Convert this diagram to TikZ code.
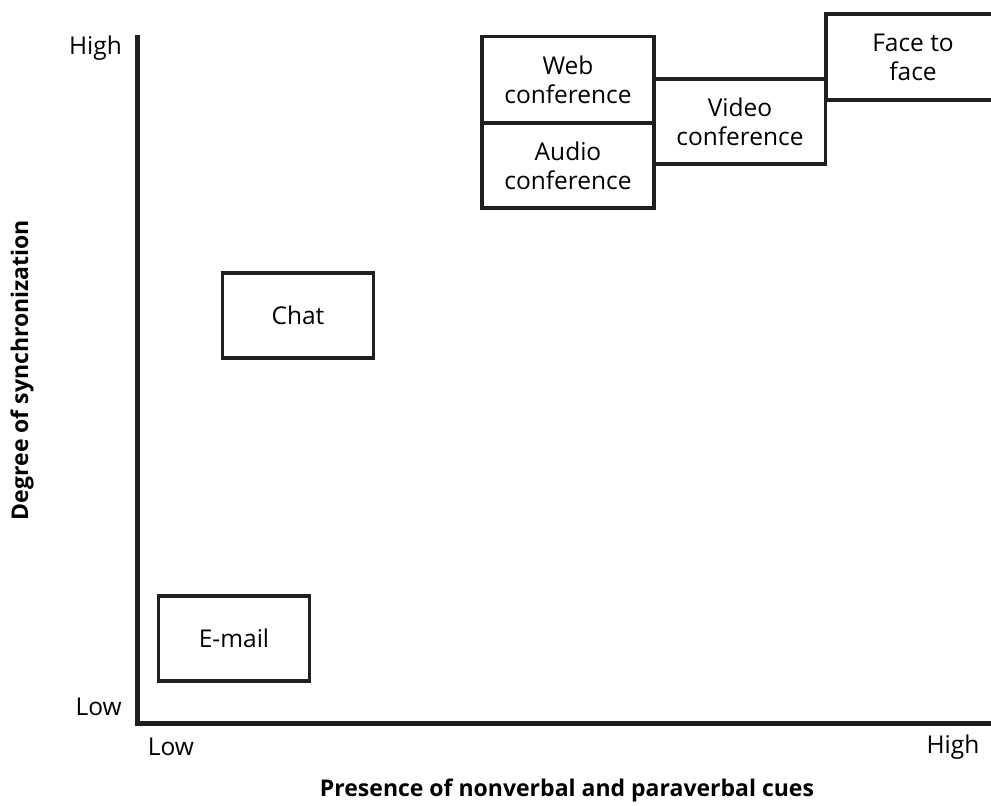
\documentclass[tikz,border=0pt]{standalone}
\usepackage{fontspec}
\setmainfont{Open Sans}
\begin{document}
\begin{tikzpicture}[x=1pt,y=-1pt,
  axisline/.style={line width=5pt,draw=black!88},
  medium/.style={draw=black!88,line width=3.2pt,rectangle,inner sep=0pt,
    align=center,font=\fontsize{24.5}{29}\selectfont},
  ticklabel/.style={font=\fontsize{24.5}{28}\selectfont,inner sep=0pt},
  axistitle/.style={font=\bfseries\fontsize{23}{26}\selectfont,inner sep=0pt}]
\useasboundingbox (0,0) rectangle (991,806);
\clip (0,0) rectangle (991,806);
% axes
\coordinate (top) at (137,35);
\coordinate (origin) at (137,723);
\coordinate (right) at (1000,723);
\draw[axisline] (top) -- (origin) -- (right);
% tick labels
\node[ticklabel,anchor=east] (yhigh) at (122,48) {High};
\node[ticklabel,anchor=east] (ylow) at (122,707) {Low};
\node[ticklabel] (xlow) at (171,747) {Low};
\node[ticklabel] (xhigh) at (953,747) {High};
% axis titles
\node[axistitle] (xtitle) at (567,790) {Presence of nonverbal and paraverbal cues};
\node[axistitle,rotate=90] (ytitle) at (22,370) {Degree of synchronization};
% communication media
\node[medium,minimum width=172pt,minimum height=86pt] (web) at (568,79.5) {Web\\conference};
\node[medium,minimum width=172pt,minimum height=85pt] (audio) at (568,165.5) {Audio\\conference};
\node[medium,minimum width=171pt,minimum height=85pt] (video) at (740,121.5) {Video\\conference};
\node[medium,minimum width=176pt,minimum height=86pt] (face) at (914,57) {};
\node[font=\fontsize{24.5}{29}\selectfont,align=center,inner sep=0pt] (facetext) at (913,57) {Face to\\face};
\node[medium,minimum width=151pt,minimum height=85pt] (chat) at (298,315.5) {Chat};
\node[medium,minimum width=151pt,minimum height=85pt] (email) at (234,638.5) {E-mail};
\end{tikzpicture}
\end{document}
